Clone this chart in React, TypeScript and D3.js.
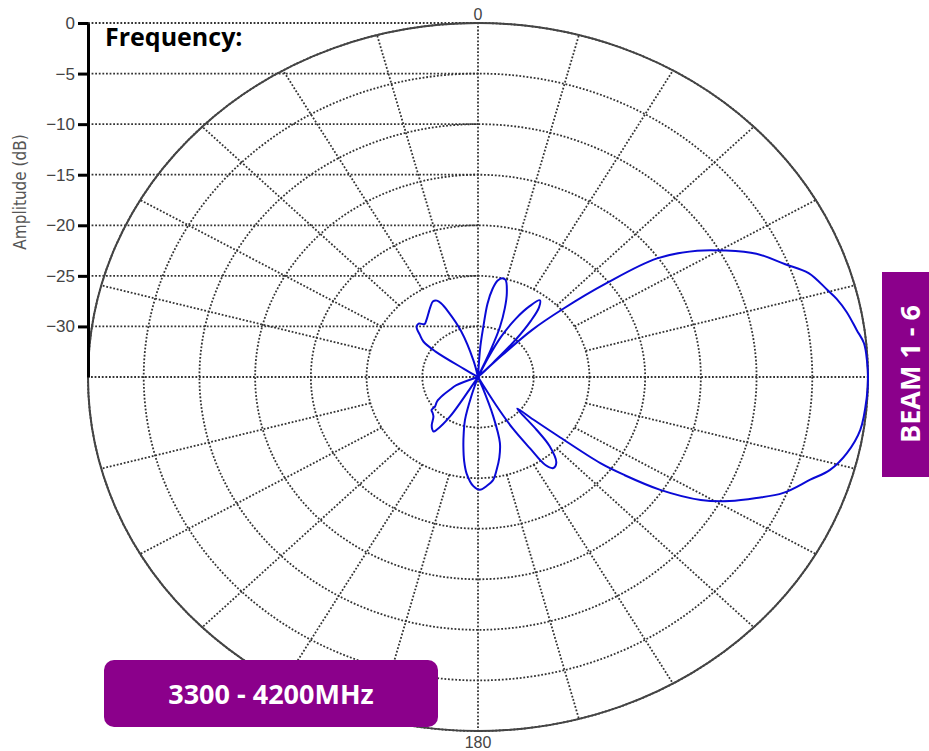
import React from 'react';
import * as d3 from 'd3';

// radiation pattern, compass angle (deg) -> amplitude (dB); below -35 sits at the centre
const patternAngles = [
  0, 3, 4, 5.5, 6.7, 8.5, 10.5, 12.5, 14.5, 17.3, 19.5, 21.7, 23, 24,
  25.5, 27.5, 30.5, 33.5, 36.2, 38.5, 40.5, 42.5, 43.8, 44.5,
  45.2, 46.2, 48.6, 51.2, 53.9, 57.6, 60.5, 64, 67.9, 70.9, 74.6, 76.5, 79, 82.2, 84.5, 87.5, 90,
  93.2, 98.7, 102.8, 106.2, 108.8, 112.7, 115.6, 118.5, 121.3, 124.3, 126.5, 127.8, 129, 130.3, 131.6,
  134.8, 136.8, 140.3, 143.1, 145.2, 146.5, 148.5, 149.8, 151.5,
  157.5, 158.5, 160.6, 163.2, 166.5, 169.6, 172.3, 175.9, 179.1, 182.2, 186.1, 188.5, 190.8, 193, 195.4, 197.5, 199,
  210, 211.8, 212.7, 215.4, 216.5, 218.5, 221.2, 225.6, 229, 231.9, 232.8, 236.7, 240.3, 244, 247.4, 251,
  300.5, 302.5, 303.5, 305.5, 308.5, 311.9, 314.7, 317.5, 320.7, 324.7, 328, 331.7, 334, 335.5, 337.5, 341.5, 346, 348,
  360,
];
const patternGains = [
  -40, -35, -32, -30, -27.7, -26.2, -25.3, -25.0, -25.1, -26.3, -27.8, -29.7, -32, -40,
  -33, -30.5, -28.3, -26.6, -25.6, -26.2, -27.7, -30, -33, -40,
  -32, -28.3, -24.8, -20.2, -15.1, -11.7, -9.6, -7.2, -5.3, -3.6, -2.5, -1.9, -1.3, -0.7, -0.2, -0.05, 0,
  -0.05, -0.3, -1.05, -2.1, -3.5, -5.3, -7.3, -9.3, -11.6, -15.2, -18.8, -21.1, -25.5, -28.5, -30.3,
  -27.6, -25.6, -24.0, -23.75, -24.4, -26.5, -29, -31.8, -40,
  -40, -34, -30.9, -28.2, -26.8, -25.7, -24.75, -24.2, -23.85, -24.2, -25.4, -26.6, -28.0, -29.3, -30.6, -33, -40,
  -40, -34, -30.4, -28.6, -28.3, -28.4, -28.7, -29.4, -29.6, -29.7, -30.15, -30.6, -31.4, -32.3, -32.9, -40,
  -40, -33.5, -30.4, -29.0, -28.35, -27.6, -27.5, -27.9, -27.7, -27.3, -26.9, -26.5, -26.6, -27.0, -28.0, -30.2, -33.3, -40,
  -40,
];

const ringLevels = [-30, -25, -20, -15, -10, -5, 0];
const tickLevels = [0, -5, -10, -15, -20, -25, -30];
const spokeAngles = [0, 15, 30, 45, 60, 75, 90, 105, 120, 135, 150, 165, 180, 195, 210, 225, 240, 255, 270, 285, 300, 315, 330, 345];
const angleLabels = ['0', '180'];
const angleLabelAngles = [0, 180];

class PolarChart extends React.Component {
  chart = React.createRef<SVGSVGElement>();

  componentDidMount() {
    this.buildChart();
  }

  buildChart() {
    const cx = 478, cy = 377, rx = 390, ry = 354;
    const minDb = -35, spokeStart = -25;
    const grid = '#333';
    const dotW = 1.8, dots = '1.8,1.8';

    const rX = d3.scaleLinear().domain([minDb, 0]).range([0, rx]).clamp(true);
    const rY = d3.scaleLinear().domain([minDb, 0]).range([0, ry]).clamp(true);
    const yAxisScale = d3.scaleLinear().domain([minDb, 0]).range([cy, cy - ry]);
    const px = (deg: number, db: number) => cx + rX(db) * Math.sin((deg * Math.PI) / 180);
    const py = (deg: number, db: number) => cy - rY(db) * Math.cos((deg * Math.PI) / 180);

    const svg = d3.select(this.chart.current);
    svg.selectAll('*').remove();

    // horizontal level lines from the axis to the centre line
    svg.append('g').selectAll('line').data(tickLevels).enter().append('line')
      .attr('x1', cx - rx).attr('x2', cx)
      .attr('y1', d => yAxisScale(d)).attr('y2', d => yAxisScale(d))
      .attr('stroke', grid).attr('stroke-width', dotW).attr('stroke-dasharray', dots);

    // rings
    svg.append('g').selectAll('ellipse').data(ringLevels).enter().append('ellipse')
      .attr('cx', cx).attr('cy', cy)
      .attr('rx', d => rX(d)).attr('ry', d => rY(d))
      .attr('fill', 'none')
      .attr('stroke', grid).attr('stroke-width', dotW).attr('stroke-dasharray', dots);

    // spokes
    svg.append('g').selectAll('line').data(spokeAngles).enter().append('line')
      .attr('x1', d => px(d, d % 90 === 0 ? minDb : spokeStart))
      .attr('y1', d => py(d, d % 90 === 0 ? minDb : spokeStart))
      .attr('x2', d => px(d, 0)).attr('y2', d => py(d, 0))
      .attr('stroke', grid).attr('stroke-width', dotW).attr('stroke-dasharray', dots);

    // outer boundary
    svg.append('ellipse')
      .attr('cx', cx).attr('cy', cy).attr('rx', rx).attr('ry', ry)
      .attr('fill', 'none').attr('stroke', '#444').attr('stroke-width', 2);

    // angle labels
    svg.append('g').selectAll('text').data(angleLabels).enter().append('text')
      .attr('x', (d, i) => px(angleLabelAngles[i], 0))
      .attr('y', (d, i) => (angleLabelAngles[i] === 0 ? cy - ry - 3 : cy + ry + 17))
      .attr('text-anchor', 'middle')
      .style('font-family', "'Liberation Sans', Arial, sans-serif")
      .style('font-size', '16px')
      .attr('fill', '#444')
      .text(d => d);

    // amplitude axis
    const yAxis = d3.axisLeft(yAxisScale).tickValues(tickLevels).tickSize(10).tickSizeOuter(0).tickPadding(3);
    const ax = svg.append('g').attr('transform', `translate(${cx - rx},0)`).call(yAxis);
    ax.select('.domain').attr('stroke', '#000').attr('stroke-width', 3);
    ax.selectAll('.tick line').attr('stroke', '#000').attr('stroke-width', 3);
    ax.selectAll('.tick text')
      .style('font-family', "'Liberation Sans', Arial, sans-serif")
      .style('font-size', '17px')
      .attr('fill', '#444');

    svg.append('text')
      .attr('transform', 'translate(26,192) rotate(-90)')
      .attr('text-anchor', 'middle')
      .style('font-family', "'Liberation Sans Narrow', 'DejaVu Sans Condensed', sans-serif")
      .style('font-size', '17px')
      .attr('fill', '#555')
      .text('Amplitude (dB)');

    // pattern
    const line = d3.line<number>()
      .x((d, i) => px(patternAngles[i], d))
      .y((d, i) => py(patternAngles[i], d))
      .curve(d3.curveCatmullRom.alpha(0.5));
    svg.append('path')
      .datum(patternGains)
      .attr('d', line)
      .attr('fill', 'none')
      .attr('stroke', '#0a0ad6')
      .attr('stroke-width', 2);

    // captions
    svg.append('text')
      .attr('x', 105).attr('y', 46)
      .style('font-family', "'Open Sans', sans-serif")
      .style('font-weight', 700)
      .style('font-size', '25px')
      .attr('fill', '#000')
      .text('Frequency:');

    svg.append('rect')
      .attr('x', 882).attr('y', 272).attr('width', 60).attr('height', 205)
      .attr('fill', '#8b008b');
    svg.append('text')
      .attr('transform', 'translate(920,374) rotate(-90)')
      .attr('text-anchor', 'middle')
      .style('font-family', "'Open Sans', sans-serif")
      .style('font-weight', 700)
      .style('font-size', '27px')
      .attr('fill', '#fff')
      .text('BEAM 1 - 6');

    svg.append('rect')
      .attr('x', 104).attr('y', 660).attr('width', 334).attr('height', 67)
      .attr('rx', 10).attr('ry', 10)
      .attr('fill', '#8b008b');
    svg.append('text')
      .attr('x', 271).attr('y', 704)
      .attr('text-anchor', 'middle')
      .style('font-family', "'Open Sans', sans-serif")
      .style('font-weight', 700)
      .style('font-size', '27px')
      .attr('fill', '#fff')
      .text('3300 - 4200MHz');
  }

  render() {
    return (
      <svg
        ref={this.chart}
        width={929}
        height={751}
        style={{ position: 'absolute', left: 0, top: 0, background: '#fff' }}
      />
    );
  }
}

export default function App() {
  return <PolarChart />;
}
